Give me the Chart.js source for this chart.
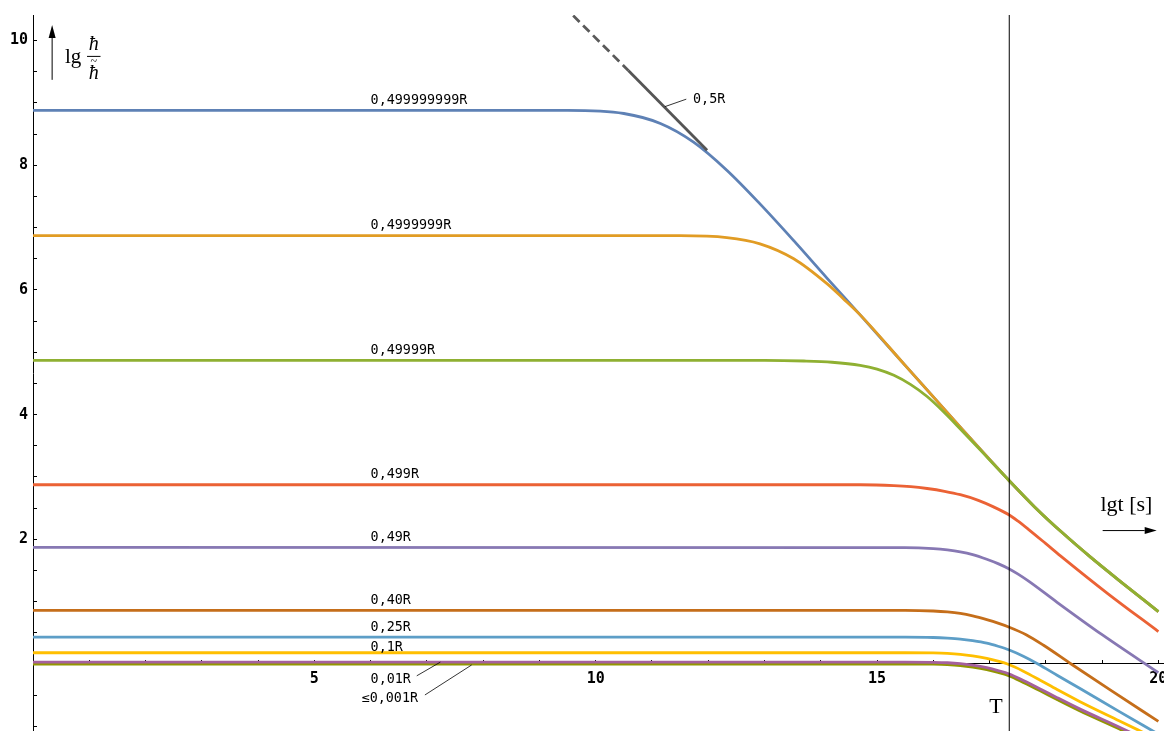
<!DOCTYPE html>
<html><head><meta charset="utf-8">
<script src="https://cdn.jsdelivr.net/npm/chart.js@4.4.1/dist/chart.umd.min.js"></script>
<style>html,body{margin:0;padding:0;background:#fff;}#wrap{width:1164px;height:731px;}</style>
</head><body><div id="wrap"><canvas id="c" width="1164" height="731"></canvas></div>
<script>
// ---- data (x = lg t [s], y = lg(h/h~)) ----
const xTickLabels = [5, 10, 15, 20];
const yTickLabels = [2, 4, 6, 8, 10];
const seriesLabels = ['0,499999999R','0,4999999R','0,49999R','0,499R','0,49R','0,40R','0,25R','0,1R','0,01R','≤0,001R'];
const seriesColors = ['#5E81B5','#E19C24','#8FB032','#EB6235','#8778B3','#C56E1A','#5D9EC7','#FFBF00','#A5609D','#929600'];

const r499999999 = [[0,8.88],[9.5,8.88],[10.5,8.83],[11.15,8.67],[11.74,8.37],[12.33,7.92],[12.92,7.38],[13.52,6.79],[14.11,6.19],[14.7,5.6],[15.5,4.79],[16.5,3.78],[17.35,2.94],[17.8,2.52],[18.3,2.10],[18.8,1.71],[19.4,1.27],[20,0.84]];
const r4999999 = [[0,6.87],[11.5,6.87],[12.33,6.84],[12.92,6.74],[13.52,6.5],[14.11,6.1],[14.4,5.86],[14.7,5.6],[15.5,4.79],[16.5,3.78],[17.35,2.94],[17.8,2.52],[18.3,2.10],[18.8,1.71],[19.4,1.27],[20,0.84]];
const r49999 = [[0,4.87],[13.0,4.87],[13.7,4.86],[14.2,4.84],[14.7,4.79],[15.0,4.73],[15.3,4.63],[15.6,4.48],[15.89,4.29],[16.2,4.03],[16.48,3.77],[16.9,3.37],[17.35,2.94],[17.8,2.52],[18.3,2.10],[18.8,1.71],[19.4,1.27],[20,0.84]];
const r499 = [[0,2.875],[14.7,2.875],[15.3,2.862],[15.6,2.845],[15.89,2.815],[16.2,2.77],[16.48,2.715],[16.8,2.625],[17.07,2.52],[17.35,2.39],[17.5,2.295],[17.69,2.16],[18.0,1.93],[18.26,1.735],[19.1,1.13],[20,0.52]];
const r49 = [[0,1.87],[15.5,1.865],[16.0,1.85],[16.25,1.83],[16.48,1.80],[16.7,1.755],[16.95,1.68],[17.15,1.61],[17.35,1.525],[17.5,1.445],[17.7,1.325],[18.2,0.99],[19.0,0.47],[20,-0.14]];
const r40 = [[0,0.86],[15.5,0.86],[16.0,0.85],[16.25,0.835],[16.48,0.81],[16.7,0.77],[16.95,0.71],[17.15,0.655],[17.35,0.59],[17.65,0.47],[17.96,0.3],[18.45,0.0],[19.15,-0.42],[20,-0.92]];
const r25 = [[0,0.43],[15.5,0.43],[16.0,0.425],[16.25,0.415],[16.48,0.40],[16.7,0.375],[16.95,0.335],[17.15,0.285],[17.35,0.225],[17.6,0.125],[17.86,0.0],[18.2,-0.18],[18.6,-0.39],[19.3,-0.76],[19.95,-1.1]];
const r1 = [[0,0.18],[15.5,0.18],[16.0,0.177],[16.25,0.17],[16.48,0.155],[16.7,0.13],[16.95,0.09],[17.15,0.045],[17.33,-0.005],[17.6,-0.115],[17.9,-0.26],[18.2,-0.41],[18.6,-0.6],[19.3,-0.91],[19.8,-1.13]];
const r01 = [[0,0.03],[15.5,0.03],[16.0,0.027],[16.25,0.02],[16.48,0.005],[16.7,-0.02],[16.95,-0.06],[17.15,-0.105],[17.35,-0.16],[17.6,-0.265],[17.9,-0.4],[18.2,-0.54],[18.6,-0.72],[19.3,-1.01],[19.65,-1.16]];
const r001 = [[0,0.0],[15.5,0.0],[16.0,-0.003],[16.25,-0.01],[16.48,-0.025],[16.7,-0.05],[16.95,-0.09],[17.15,-0.135],[17.35,-0.19],[17.6,-0.295],[17.9,-0.43],[18.2,-0.57],[18.6,-0.75],[19.3,-1.04],[19.6,-1.17]];
const limit05R = [[9.6,10.4],[10.58,9.52],[11.98,8.24]];
const T = 17.35;
const xRange = [0, 20.1];
const yRange = [-1.075, 10.41];

const allSeries = [r499999999, r4999999, r49999, r499, r49, r40, r25, r1, r01, r001];
const drawOrder = [100, 99, 98, 97, 96, 95, 94, 93, 91, 92];
const toPts = a => a.map(([x, y]) => ({x, y}));

const datasets = allSeries.map((s, i) => ({
  label: seriesLabels[i], data: toPts(s), borderColor: seriesColors[i], borderWidth: 2.8,
  pointRadius: 0, cubicInterpolationMode: 'monotone', fill: false, order: drawOrder[i]
}));
datasets.push({label: '0,5R dashed', data: toPts(limit05R.slice(0, 2)), borderColor: '#5a5a5a', borderWidth: 2.8, borderDash: [9, 5], pointRadius: 0, order: 3});
datasets.push({label: '0,5R', data: toPts(limit05R.slice(1)), borderColor: '#555', borderWidth: 2.8, pointRadius: 0, order: 2});
datasets.push({label: 'T', data: [{x: T, y: yRange[0]}, {x: T, y: yRange[1]}], borderColor: '#000', borderWidth: 1, pointRadius: 0, order: 1});

const labelX = 6.0;
const labelLift = [6.5, 6.5, 6.5, 6.5, 6.5, 6.5, 6, 1.5];

function arrow(ctx, x1, y1, x2, y2, head, half) {
  const a = Math.atan2(y2 - y1, x2 - x1);
  ctx.beginPath(); ctx.moveTo(x1, y1);
  ctx.lineTo(x2 - head * Math.cos(a), y2 - head * Math.sin(a)); ctx.stroke();
  ctx.beginPath(); ctx.moveTo(x2, y2);
  ctx.lineTo(x2 - head * Math.cos(a) + half * Math.sin(a), y2 - head * Math.sin(a) - half * Math.cos(a));
  ctx.lineTo(x2 - head * Math.cos(a) - half * Math.sin(a), y2 - head * Math.sin(a) + half * Math.cos(a));
  ctx.closePath(); ctx.fill();
}

const annot = {
  id: 'annot',
  afterDatasetsDraw(chart) {
    const {ctx} = chart; const X = chart.scales.x, Y = chart.scales.y;
    const px = v => X.getPixelForValue(v), py = v => Y.getPixelForValue(v);
    ctx.save();
    ctx.fillStyle = '#000'; ctx.strokeStyle = '#000';
    ctx.font = '13.4px "DejaVu Sans Mono"'; ctx.textAlign = 'left'; ctx.textBaseline = 'alphabetic';
    for (let i = 0; i < 8; i++) ctx.fillText(seriesLabels[i], px(labelX), py(allSeries[i][0][1]) - labelLift[i]);
    ctx.fillText(seriesLabels[8], px(6.0), py(-0.305));
    ctx.fillText(seriesLabels[9], px(5.84), py(-0.605));
    ctx.fillText('0,5R', px(11.73), py(8.995));
    ctx.lineWidth = 0.8;
    const seg = (a, b, c, d) => { ctx.beginPath(); ctx.moveTo(px(a), py(b)); ctx.lineTo(px(c), py(d)); ctx.stroke(); };
    seg(11.23, 8.94, 11.61, 9.06);
    seg(6.82, -0.19, 7.24, 0.03);
    seg(6.965, -0.497, 7.795, -0.016);
    // T and x label
    ctx.font = '22px "Liberation Serif"';
    ctx.textAlign = 'right'; ctx.fillText('T', px(17.235), py(-0.786));
    ctx.textAlign = 'left'; ctx.fillText('lgt [s]', px(18.97), py(2.455));
    ctx.lineWidth = 1;
    arrow(ctx, px(19.01), py(2.14), px(19.97), py(2.14), 12, 3.5);
    // y label
    arrow(ctx, px(0.34), py(9.37), px(0.34), py(10.25), 13, 3.5);
    ctx.font = '21px "Liberation Serif"'; ctx.textAlign = 'left';
    ctx.fillText('lg', px(0.569), py(9.637));
    ctx.font = 'italic 20px "Liberation Serif"'; ctx.textAlign = 'center';
    const cx = px(1.078);
    ctx.fillText('ħ', cx, py(9.85));
    ctx.fillText('ħ', cx, py(9.386));
    ctx.lineWidth = 1;
    ctx.beginPath(); ctx.moveTo(px(0.96), py(9.746)); ctx.lineTo(px(1.2), py(9.746)); ctx.stroke();
    ctx.font = '12px "Liberation Serif"';
    ctx.fillText('~', cx, py(9.61));
    ctx.restore();
  }
};

const tickFont = {family: 'DejaVu Sans Mono', weight: 'bold', size: 15};
new Chart(document.getElementById('c'), {
  type: 'line',
  data: {datasets},
  options: {
    responsive: false, animation: false, devicePixelRatio: 1,
    layout: {padding: {top: 15, left: 0, right: 0, bottom: 0}},
    plugins: {legend: {display: false}, tooltip: {enabled: false}},
    scales: {
      x: {
        type: 'linear', min: xRange[0], max: xRange[1], position: {y: 0},
        border: {display: true, color: '#000', width: 1},
        grid: {drawOnChartArea: false, drawTicks: true, tickLength: -4, color: '#000'},
        ticks: {stepSize: 1, autoSkip: false, includeBounds: false, maxRotation: 0, padding: 10,
          font: tickFont, color: '#000', callback: v => xTickLabels.includes(v) ? String(v) : ''},
        afterFit: s => { s.paddingLeft = 0; s.paddingRight = 0; }
      },
      y: {
        type: 'linear', min: yRange[0], max: yRange[1], position: 'left',
        border: {display: true, color: '#000', width: 1},
        grid: {drawOnChartArea: false, drawTicks: true, tickLength: -4, color: '#000'},
        ticks: {stepSize: 0.5, autoSkip: false, includeBounds: false, padding: 9,
          font: tickFont, color: '#000', callback: v => yTickLabels.includes(v) ? String(v) : ''},
        afterFit: s => { s.width = 33; s.paddingTop = 0; s.paddingBottom = 0; }
      }
    }
  },
  plugins: [annot]
});
</script>
</body></html>
